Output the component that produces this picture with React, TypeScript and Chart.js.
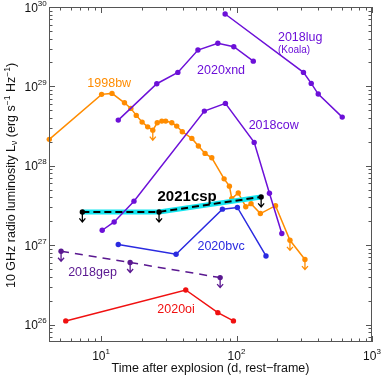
import React, { useEffect, useRef } from "react";
import { Chart, registerables } from "chart.js";
Chart.register(...registerables);

// ---------------- data (days after explosion, 10 GHz luminosity) ----------------
const bw98Days = [4.15, 10.1, 12.05, 14.9, 16.6, 18.2, 20.1, 22.1, 24.1, 26.0, 28.1, 30.0, 33.3, 36.2, 39.8, 46.8, 52.3, 58.6, 65.7, 81.0, 88.6, 92.3, 103, 117, 128, 150, 194, 248, 320];
const bw98Lum = [2.15e28, 7.93e28, 8.16e28, 6.21e28, 5.28e28, 4.31e28, 3.55e28, 3.09e28, 2.81e28, 3.48e28, 3.65e28, 3.65e28, 3.48e28, 3.16e28, 2.68e28, 2.21e28, 1.77e28, 1.43e28, 1.26e28, 6.84e27, 5.53e27, 3.85e27, 4.54e27, 3.05e27, 3.33e27, 2.5e27, 3.14e27, 1.15e27, 6.58e26];
const bw98Limit = [false, false, false, false, false, false, false, false, true, false, false, false, false, false, false, false, false, false, false, false, false, false, false, false, false, false, false, true, true];

const xnd20Days = [13.4, 25.8, 36.9, 51.9, 72.8, 95.5, 133];
const xnd20Lum = [3.76e28, 1.08e29, 1.5e29, 2.87e29, 3.49e29, 3.16e29, 2.08e29];

const lug18Days = [82.4, 312, 356, 401, 603];
const lug18Lum = [8.16e29, 1.5e29, 1.09e29, 8.0e28, 4.1e28];

const cow18Days = [10.2, 12.5, 17.5, 57.9, 82.8, 135, 175, 216];
const cow18Lum = [1.54e27, 1.96e27, 3.58e27, 4.88e28, 6.1e28, 1.97e28, 4.51e27, 1.4e27];

const csp21Days = [7.28, 26.8, 152];
const csp21Lum = [2.62e27, 2.62e27, 4.05e27];
const csp21Limit = [true, true, true];

const bvc20Days = [13.4, 35.8, 78.7, 101.5, 165];
const bvc20Lum = [1.02e27, 7.67e26, 2.84e27, 2.98e27, 7.3e26];

const gep18Days = [5.07, 16.4, 75.7];
const gep18Lum = [8.37e26, 6.04e26, 3.9e26];
const gep18Limit = [true, true, true];

const oi20Days = [5.49, 42.2, 72.8, 94.9];
const oi20Lum = [1.11e26, 2.72e26, 1.41e26, 1.11e26];

const xTickExps = [1, 2, 3];
const yTickExps = [26, 27, 28, 29, 30];

const labelTexts = ["1998bw", "2020xnd", "2018lug", "(Koala)", "2018cow", "2021csp", "2020bvc", "2018gep", "2020oi"];
const labelDays = [11.5, 76.9, 295, 266, 188, 43.2, 76.9, 8.65, 35.8];
const labelLums = [1.13e29, 1.65e29, 4.3e29, 2.95e29, 3.35e28, 4.26e27, 9.97e26, 4.6e26, 1.6e26];

// ---------------- styles ----------------
const FONT = '"Liberation Sans", Arial, Helvetica, sans-serif';
const ORANGE = "#ff8c00";
const PURPLE = "#6c10d8";
const GEP = "#5a1890";
const BVC = "#2a2ae0";
const OI = "#f01010";
const BAND = "#14e6f0";
const labelColors = [ORANGE, PURPLE, PURPLE, PURPLE, PURPLE, "#000000", BVC, GEP, OI];
const labelSizes = [12.5, 12.5, 12.5, 10, 12.5, 15, 12.5, 12.5, 12.5];
const labelBold = [false, false, false, false, false, true, false, false, false];

const pts = (xs: number[], ys: number[]) => xs.map((x, i) => ({ x, y: ys[i] }));

function series(label: string, xs: number[], ys: number[], color: string, order: number, extra: any = {}) {
  return {
    label,
    data: pts(xs, ys),
    borderColor: color,
    backgroundColor: color,
    pointBackgroundColor: color,
    pointBorderColor: color,
    pointBorderWidth: 0,
    pointRadius: 2.7,
    borderWidth: 1.5,
    tension: 0,
    clip: false,
    order,
    ...extra,
  };
}

function drawPow(ctx: CanvasRenderingContext2D, exp: string, x: number, baseY: number, align: "center" | "right") {
  ctx.font = `12px ${FONT}`;
  const w1 = ctx.measureText("10").width;
  ctx.font = `8px ${FONT}`;
  const w2 = ctx.measureText(exp).width;
  const total = w1 + w2;
  let x0 = align === "right" ? x - total : x - total / 2;
  if (x0 + total > 381) x0 = 381 - total;
  ctx.textAlign = "left";
  ctx.textBaseline = "alphabetic";
  ctx.font = `12px ${FONT}`;
  ctx.fillText("10", x0, baseY);
  ctx.font = `8px ${FONT}`;
  ctx.fillText(exp, x0 + w1, baseY - 5.8);
}

const decorPlugin = {
  id: "decor",
  afterDatasetsDraw(chart: any) {
    const ctx: CanvasRenderingContext2D = chart.ctx;
    chart.data.datasets.forEach((ds: any, di: number) => {
      if (!ds.limits) return;
      const meta = chart.getDatasetMeta(di);
      ctx.save();
      ctx.strokeStyle = ds.arrowColor || ds.borderColor;
      ctx.lineWidth = 1.3;
      ctx.setLineDash([]);
      meta.data.forEach((pt: any, i: number) => {
        if (!ds.limits[i]) return;
        const x = pt.x;
        const y = pt.y;
        ctx.beginPath();
        ctx.moveTo(x, y);
        ctx.lineTo(x, y + 10);
        ctx.moveTo(x - 3, y + 6.5);
        ctx.lineTo(x, y + 10);
        ctx.lineTo(x + 3, y + 6.5);
        ctx.stroke();
      });
      ctx.restore();
    });
  },
  afterDraw(chart: any) {
    const ctx: CanvasRenderingContext2D = chart.ctx;
    const { left, right, top, bottom } = chart.chartArea;
    const xs = chart.scales.x;
    const ys = chart.scales.y;
    ctx.save();

    // series labels
    labelTexts.forEach((t, i) => {
      const px = xs.getPixelForValue(labelDays[i]);
      const py = ys.getPixelForValue(labelLums[i]);
      const size = labelSizes[i];
      ctx.font = `${labelBold[i] ? "bold " : ""}${size}px ${FONT}`;
      ctx.fillStyle = labelColors[i];
      ctx.textAlign = "center";
      ctx.textBaseline = "alphabetic";
      ctx.fillText(t, px, py + size * 0.36);
    });

    // frame
    ctx.strokeStyle = "#555555";
    ctx.lineWidth = 1;
    ctx.setLineDash([]);
    ctx.strokeRect(left + 0.5, top + 0.5, right - left - 1, bottom - top - 1);

    // x ticks
    ctx.beginPath();
    for (let d = 0; d <= 3; d++) {
      for (let m = 1; m <= 9; m++) {
        const v = m * Math.pow(10, d);
        if (v < xs.min || v > xs.max) continue;
        const px = Math.round(xs.getPixelForValue(v)) + 0.5;
        const len = m === 1 ? 6 : 3.5;
        ctx.moveTo(px, bottom);
        ctx.lineTo(px, bottom - len);
        ctx.moveTo(px, top);
        ctx.lineTo(px, top + len);
      }
    }
    // y ticks
    for (let d = 25; d <= 30; d++) {
      for (let m = 1; m <= 9; m++) {
        const v = m * Math.pow(10, d);
        if (v < ys.min || v > ys.max * 1.0001) continue;
        const py = Math.round(ys.getPixelForValue(v)) + 0.5;
        const len = m === 1 ? 6 : 3.5;
        ctx.moveTo(left, py);
        ctx.lineTo(left + len, py);
        ctx.moveTo(right, py);
        ctx.lineTo(right - len, py);
      }
    }
    ctx.stroke();

    // tick labels
    ctx.fillStyle = "#111111";
    xTickExps.forEach((e) => {
      const px = xs.getPixelForValue(Math.pow(10, e));
      drawPow(ctx, String(e), px, 359.5, "center");
    });
    yTickExps.forEach((e) => {
      const py = ys.getPixelForValue(Math.pow(10, e));
      drawPow(ctx, String(e), 46.7, py + 4.5, "right");
    });

    // x title
    ctx.font = `12.5px ${FONT}`;
    ctx.textAlign = "center";
    ctx.textBaseline = "alphabetic";
    ctx.fillText("Time after explosion (d, rest\u2212frame)", (left + right) / 2, 371.5);

    // y title (rotated, with sub/superscripts)
    const parts: [string, number, number][] = [
      ["10 GHz radio luminosity L", 12.5, 0],
      ["\u03bd", 8.5, 2.5],
      [" (erg s", 12.5, 0],
      ["\u22121", 8.5, -5],
      [" Hz", 12.5, 0],
      ["\u22121", 8.5, -5],
      [")", 12.5, 0],
    ];
    let total = 0;
    const widths = parts.map(([s, sz]) => {
      ctx.font = `${sz}px ${FONT}`;
      const w = ctx.measureText(s).width;
      total += w;
      return w;
    });
    ctx.translate(10, (top + bottom) / 2 + 1);
    ctx.rotate(-Math.PI / 2);
    ctx.textAlign = "left";
    let cx = -total / 2;
    parts.forEach(([s, sz, dy], i) => {
      ctx.font = `${sz}px ${FONT}`;
      ctx.fillText(s, cx, 4.5 + dy);
      cx += widths[i];
    });
    ctx.restore();
  },
};

export default function App() {
  const ref = useRef<HTMLCanvasElement | null>(null);
  useEffect(() => {
    if (!ref.current) return;
    const chart = new Chart(ref.current, {
      type: "line",
      data: {
        datasets: [
          series("1998bw", bw98Days, bw98Lum, ORANGE, 9, { limits: bw98Limit }),
          {
            label: "2021csp band",
            data: pts(csp21Days, csp21Lum),
            borderColor: BAND,
            borderWidth: 5,
            pointRadius: 0,
            tension: 0,
            clip: false,
            order: 8,
            borderCapStyle: "butt",
          },
          series("2018lug", lug18Days, lug18Lum, PURPLE, 5),
          series("2020xnd", xnd20Days, xnd20Lum, PURPLE, 5),
          series("2018cow", cow18Days, cow18Lum, PURPLE, 4),
          series("2020bvc", bvc20Days, bvc20Lum, BVC, 4),
          series("2018gep", gep18Days, gep18Lum, GEP, 4, { limits: gep18Limit, borderDash: [8, 6] }),
          series("2020oi", oi20Days, oi20Lum, OI, 4),
          series("2021csp", csp21Days, csp21Lum, "#000000", 0, { limits: csp21Limit, borderDash: [7, 4], borderWidth: 2 }),
        ] as any,
      },
      options: {
        animation: false,
        responsive: false,
        maintainAspectRatio: false,
        layout: { padding: { left: 49, right: 10, top: 7, bottom: 40 } },
        plugins: { legend: { display: false }, tooltip: { enabled: false }, title: { display: false } },
        scales: {
          x: { type: "logarithmic", min: 4.13, max: 1000, display: false },
          y: { type: "logarithmic", min: 6.02e25, max: 1e30, display: false },
        },
        events: [],
      },
      plugins: [decorPlugin],
    });
    return () => chart.destroy();
  }, []);
  return (
    <div style={{ position: "fixed", left: 0, top: 0, width: 382, height: 382, background: "#fff" }}>
      <canvas ref={ref} width={382} height={382} />
    </div>
  );
}
